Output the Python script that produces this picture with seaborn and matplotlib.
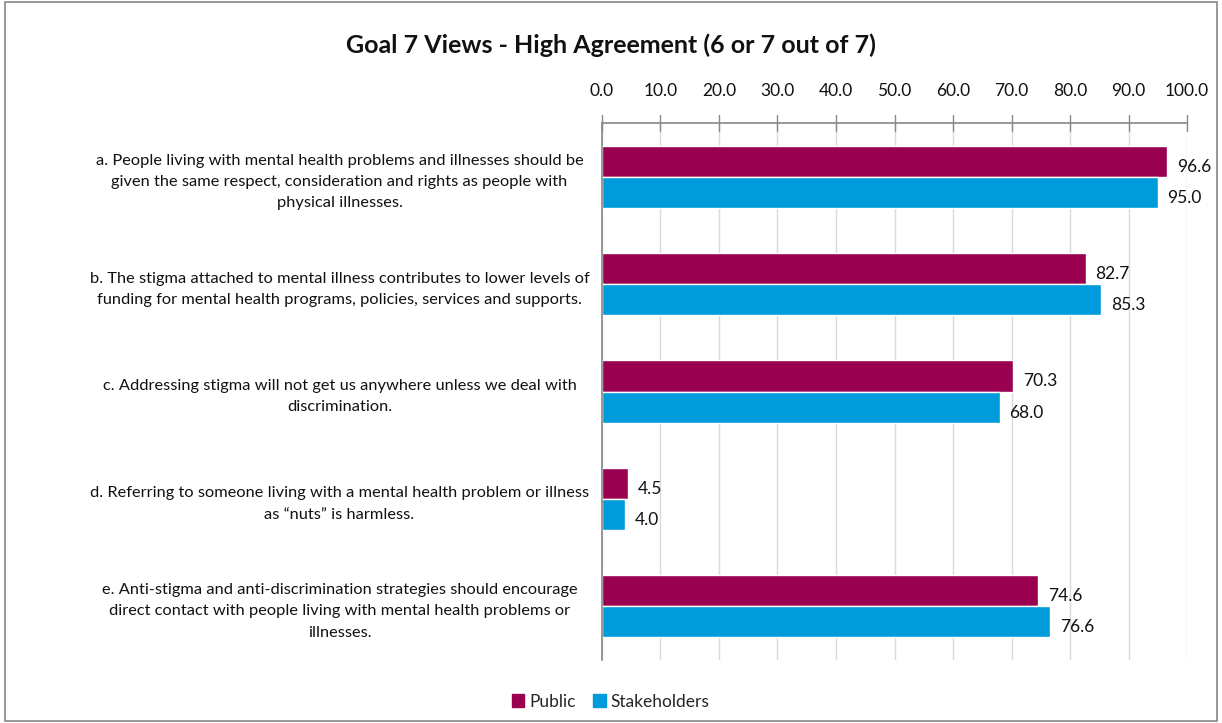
import matplotlib
matplotlib.use("Agg")
import matplotlib.pyplot as plt
import seaborn as sns
import pandas as pd
import numpy as np
from matplotlib.patches import Rectangle

statements = [
    "a. People living with mental health problems and illnesses should be\ngiven the same respect, consideration and rights as people with\nphysical illnesses.",
    "b. The stigma attached to mental illness contributes to lower levels of\nfunding for mental health programs, policies, services and supports.",
    "c. Addressing stigma will not get us anywhere unless we deal with\ndiscrimination.",
    "d. Referring to someone living with a mental health problem or illness\nas \u201cnuts\u201d is harmless.",
    "e. Anti-stigma and anti-discrimination strategies should encourage\ndirect contact with people living with mental health problems or\nillnesses.",
]
public = [96.6, 82.7, 70.3, 4.5, 74.6]
stakeholders = [95.0, 85.3, 68.0, 4.0, 76.6]
groups = ["Public", "Stakeholders"]
colors = ["#990050", "#009BDB"]

df = pd.DataFrame({
    "statement": statements * 2,
    "value": public + stakeholders,
    "group": [groups[0]] * len(statements) + [groups[1]] * len(statements),
})

sns.set_theme(style="white")
plt.rcParams["font.family"] = ["Lato", "DejaVu Sans"]

fig = plt.figure(figsize=(12.22, 7.23), dpi=100)
ax = fig.add_axes([0.4926, 0.0871, 0.4788, 0.7428])

sns.barplot(data=df, y="statement", x="value", hue="group", orient="h",
            palette=colors, width=0.58, ax=ax, saturation=1,
            order=statements, hue_order=groups, errorbar=None)

# Value labels sit just right of each bar, nudged slightly below its centre
for cont in ax.containers:
    labels = ax.bar_label(cont, fmt="%.1f", padding=7, fontsize=12.5,
                          color="#111111")
    for t in labels:
        t.xyann = (7, -4)

ax.set_xlim(0, 100)
ax.set_ylim(len(statements) - 0.5, -0.5)
ax.set_xticks(np.arange(0, 101, 10))
ax.set_xticklabels([f"{v:.1f}" for v in np.arange(0, 101, 10)], fontsize=12.5)
ax.xaxis.tick_top()
ax.tick_params(axis="x", which="major", direction="out", length=0, pad=17,
               colors="#111111")
ax.set_xlabel("")
ax.set_ylabel("")
ax.grid(axis="x", color="#D9D9D9", linewidth=1)
ax.set_axisbelow(True)

# Y tick labels centered on each statement; tick marks on category boundaries
ax.set_yticks(range(len(statements)))
ax.set_yticklabels(statements, fontsize=11.8, ha="center", color="#111111",
                   linespacing=1.65)
ax.tick_params(axis="y", which="major", length=0, pad=189)
ax.set_yticks(np.arange(-0.5, len(statements), 1), minor=True)
ax.tick_params(axis="y", which="minor", direction="out", length=5,
               color="#888888", width=1)

# Top-axis tick marks drawn across the top spine
for v in np.arange(0, 101, 10):
    ax.plot([v, v], [-0.5 - 0.07, -0.5 + 0.07], color="#888888", lw=1,
            clip_on=False, zorder=5)

for side in ["right", "bottom"]:
    ax.spines[side].set_visible(False)
for side in ["left", "top"]:
    ax.spines[side].set_color("#888888")
    ax.spines[side].set_linewidth(1.2)

ax.legend_.remove()
handles = [Rectangle((0, 0), 1, 1, color=c) for c in colors]
fig.legend(handles, groups, loc="lower center", bbox_to_anchor=(0.5, -0.003),
           ncol=2, frameon=False, fontsize=12.5, handlelength=0.7,
           handleheight=0.7, columnspacing=1.0, handletextpad=0.3)

fig.text(0.5, 0.937, "Goal 7 Views - High Agreement (6 or 7 out of 7)",
         ha="center", va="center", fontsize=18, fontweight="bold", color="#111111")

fig.patches.append(Rectangle((0.004, 0.003), 0.992, 0.994, transform=fig.transFigure,
                             fill=False, edgecolor="#888888", lw=1.2))

fig.savefig("out.png", dpi=100)
